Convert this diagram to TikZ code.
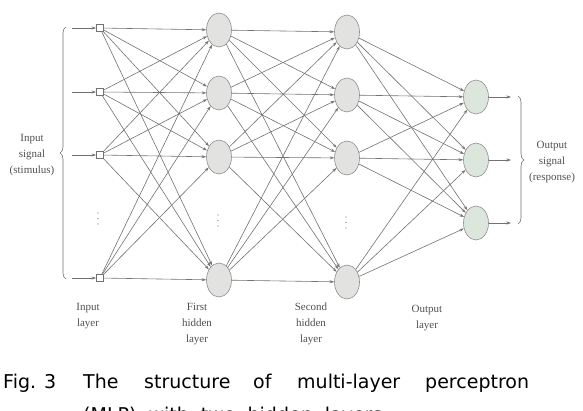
\documentclass[tikz,border=0pt]{standalone}
\usepackage{fontspec}
\setmainfont{Liberation Serif}
\newfontfamily\capfont{DejaVu Sans}
\usetikzlibrary{shapes.geometric,arrows.meta,decorations.pathreplacing}
\definecolor{lnc}{HTML}{727272}
\definecolor{txc}{HTML}{505050}
\definecolor{hfill}{HTML}{E2E2E0}
\definecolor{ofill}{HTML}{DDE6DC}
\begin{document}
\begin{tikzpicture}[x=1pt,y=-1pt,
  inbox/.style={draw=lnc,fill=white,rectangle,minimum size=7pt,inner sep=0pt,line width=0.6pt},
  hid/.style={draw=lnc!80,fill=hfill,ellipse,minimum width=25pt,minimum height=34pt,inner sep=0pt,line width=0.6pt},
  outn/.style={hid,fill=ofill},
  conn/.style={draw=lnc,line width=0.6pt,-{Stealth[length=4.5pt,width=3pt]}},
  lbl/.style={text=txc,font=\fontsize{11}{16}\selectfont,align=center,inner sep=0pt},
  captxt/.style={font=\capfont\fontsize{19}{23}\selectfont,anchor=base west,inner sep=0pt,text=black},
  dotc/.style={fill=lnc,circle,inner sep=0pt,minimum size=1.4pt},
  brc/.style={draw=lnc,line width=0.6pt,decorate,decoration={brace,amplitude=6pt}}]
\useasboundingbox (0,0) rectangle (583,410);
% input layer
\node[inbox] (i1) at (100,28) {};
\node[inbox] (i2) at (100,92) {};
\node[inbox] (i3) at (100,155) {};
\node[inbox] (i4) at (100,278) {};
% first hidden
\node[hid] (h1) at (219,30) {};
\node[hid] (h2) at (219,93) {};
\node[hid] (h3) at (219,157) {};
\node[hid] (h4) at (219,280) {};
% second hidden
\node[hid] (g1) at (347,32) {};
\node[hid] (g2) at (347,95) {};
\node[hid] (g3) at (347,158) {};
\node[hid] (g4) at (347,282) {};
% output
\node[outn] (o1) at (476,97) {};
\node[outn] (o2) at (476,160) {};
\node[outn] (o3) at (476,223) {};
% input arrows
\foreach \k/\y in {1/28,2/92,3/155,4/278}{
  \coordinate (a\k) at (72,\y);
  \draw[conn] (a\k) -- (i\k);
}
% output arrows
\foreach \k/\y in {1/97,2/160,3/223}{
  \coordinate (b\k) at (511,\y);
  \draw[conn] (o\k) -- (b\k);
}
% connections
\foreach \s in {1,2,3,4}{
  \foreach \t in {1,2,3,4}{
    \draw[conn] (i\s) -- (h\t);
    \draw[conn] (h\s) -- (g\t);
  }
  \foreach \t in {1,2,3}{
    \draw[conn] (g\s) -- (o\t);
  }
}
% dots
\foreach \x/\y in {98/213,218/215,346/217}{
  \node[dotc] (d\x a) at (\x,\y) {};
  \node[dotc] (d\x b) at (\x,\y+5.5) {};
  \node[dotc] (d\x c) at (\x,\y+11) {};
}
% braces
\coordinate (lbt) at (66,27);
\coordinate (lbb) at (66,279);
\draw[brc] (lbb) -- (lbt);
\coordinate (rbt) at (518,96);
\coordinate (rbb) at (518,224);
\draw[brc] (rbt) -- (rbb);
% labels
\node[lbl] (tin) at (32,155) {Input\\signal\\(stimulus)};
\node[lbl] (tout) at (552,162) {Output\\signal\\(response)};
\node[lbl,anchor=north] (lin) at (88,303) {Input\\layer};
\node[lbl,anchor=north] (lh1) at (197,303) {First\\hidden\\layer};
\node[lbl,anchor=north] (lh2) at (311,303) {Second\\hidden\\layer};
\node[lbl,anchor=north] (lout) at (427,305) {Output\\layer};
% caption
\node[captxt] (c1) at (3,388) {Fig. 3};
\node[captxt] (c2) at (83,388) {The};
\node[captxt] (c3) at (144,388) {structure};
\node[captxt] (c4) at (253,388) {of};
\node[captxt] (c5) at (297,388) {multi-layer};
\node[captxt] (c6) at (425,388) {perceptron};
\node[captxt] (c7) at (83,421) {(MLP)\ \ with\ \ two\ \ hidden\ \ layers};
\end{tikzpicture}
\end{document}
